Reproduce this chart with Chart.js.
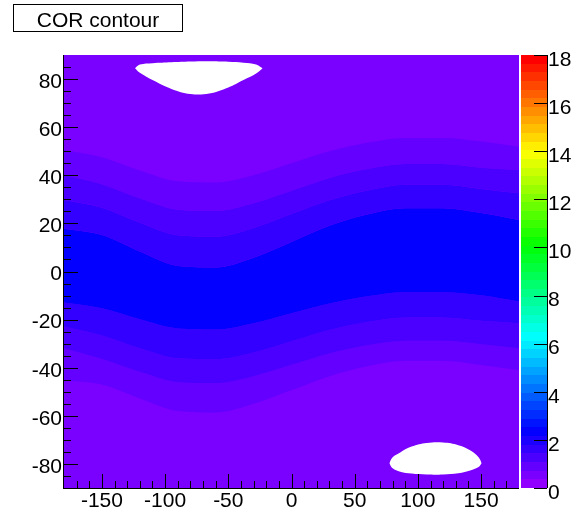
<!DOCTYPE html>
<html>
<head>
<meta charset="utf-8">
<script src="https://cdn.jsdelivr.net/npm/chart.js@4.4.0/dist/chart.umd.min.js"></script>
<style>
html, body { margin: 0; padding: 0; background: #fff; }
#wrap { position: relative; width: 580px; height: 517px; }
#title { position: absolute; left: 13px; top: 4px; width: 168px; height: 26px; border: 1px solid #000;
  font: 21px "Liberation Sans", Arial, sans-serif; line-height: 30px; text-align: center; color: #000; }
</style>
</head>
<body>
<div id="wrap">
  <canvas id="myChart" width="580" height="517"></canvas>
  <div id="title">COR contour</div>
</div>
<script>
// contour edges at these x positions
const xGrid = [-180, -150, -120, -90, -60, -30, 0, 30, 60, 90, 120, 150, 180];
const edge1Top = [50.5, 47.5, 42.0, 37.5, 37.0, 40.0, 45.0, 50.0, 53.5, 55.5, 55.5, 54.0, 51.9];
const edge2Top = [40.1, 36.3, 30.4, 25.7, 25.2, 28.4, 33.6, 38.9, 42.6, 44.7, 44.7, 43.1, 42.2];
const edge3Top = [29.7, 26.5, 20.3, 15.1, 14.5, 18.1, 23.9, 29.6, 33.7, 36.1, 36.1, 34.3, 32.5];
const edge4Top = [17.8, 15.2, 8.3, 2.3, 1.7, 5.7, 12.3, 19.0, 23.7, 26.3, 26.3, 24.3, 21.4];
const edge4Bot = [-12.9, -15.3, -19.9, -23.7, -24.1, -21.5, -17.4, -13.3, -10.3, -8.6, -8.6, -9.9, -12.5];
const edge3Bot = [-22.9, -26.6, -31.9, -36.1, -36.5, -33.7, -29.0, -24.3, -21.0, -19.1, -19.1, -20.5, -21.5];
const edge2Bot = [-31.9, -36.4, -41.7, -46.0, -46.4, -43.5, -38.8, -34.1, -30.7, -28.8, -28.8, -30.2, -31.9];
const edge1Bot = [-45.1, -47.0, -52.8, -58.0, -58.6, -55.0, -49.3, -43.5, -39.4, -37.1, -37.1, -38.9, -40.9];

// palette slot of each band (outer one first, then between consecutive edges)
const outerLevel = 1;
const bandLevel = [2, 3, 4, 6, 4, 3, 2];

// empty (white) cells
const holeTopX = [-123.8, -120, -110, -95, -80, -65, -50, -38, -28, -22.8];
const holeTopUpper = [84.5, 86.0, 86.6, 87.0, 87.3, 87.4, 87.2, 86.8, 86.1, 84.5];
const holeTopLower = [84.5, 82.6, 79.6, 75.9, 73.8, 74.0, 76.5, 79.6, 82.3, 84.5];
const holeBotX = [77.4, 80, 86, 95, 107, 120, 132, 142, 148, 150.5];
const holeBotUpper = [-79.7, -77.2, -75.2, -72.8, -71.3, -71.1, -72.2, -74.5, -77.2, -79.7];
const holeBotLower = [-79.7, -81.8, -83.2, -84.0, -84.4, -84.4, -83.9, -82.6, -81.3, -79.7];

const xTicks = [-150, -100, -50, 0, 50, 100, 150];
const yTicks = [-80, -60, -40, -20, 0, 20, 40, 60, 80];
const zTicks = [0, 2, 4, 6, 8, 10, 12, 14, 16, 18];
const zMin = 0, zMax = 18, nColors = 50;

function rootColor(i) {
  var hue = 280 - (i + 1) * 280 / nColors;
  return 'hsl(' + hue + ',100%,50%)';
}

function pts(xs, ys) {
  return xs.map(function (x, j) { return {x: x, y: ys[j]}; });
}

var edges = [edge1Top, edge2Top, edge3Top, edge4Top, edge4Bot, edge3Bot, edge2Bot, edge1Bot];
var datasets = edges.map(function (e, i) {
  var last = i === edges.length - 1;
  return {
    data: pts(xGrid, e),
    fill: last ? false : '+1',
    backgroundColor: last ? 'rgba(0,0,0,0)' : rootColor(bandLevel[i]),
    borderColor: 'rgba(0,0,0,0)',
    borderWidth: 0,
    pointRadius: 0,
    cubicInterpolationMode: 'monotone',
    order: 1
  };
});
[[holeTopX, holeTopUpper, holeTopLower], [holeBotX, holeBotUpper, holeBotLower]].forEach(function (h) {
  datasets.push({data: pts(h[0], h[1]), fill: '+1', backgroundColor: '#fff', borderColor: 'rgba(0,0,0,0)',
    borderWidth: 0, pointRadius: 0, tension: 0.4, order: 0});
  datasets.push({data: pts(h[0], h[2]), fill: false, borderColor: 'rgba(0,0,0,0)',
    borderWidth: 0, pointRadius: 0, tension: 0.4, order: 0});
});

var font = {family: '"Liberation Sans", Arial, sans-serif', size: 21};

function noPad(s) { s.paddingTop = 0; s.paddingBottom = 0; }

var rootFrame = {
  id: 'rootFrame',
  beforeDraw: function (chart) {
    var ctx = chart.ctx, a = chart.chartArea;
    ctx.save();
    ctx.fillStyle = rootColor(outerLevel);
    ctx.fillRect(a.left, a.top, a.right - a.left, a.bottom - a.top);
    ctx.restore();
  },
  afterDraw: function (chart) {
    var ctx = chart.ctx, a = chart.chartArea;
    var xs = chart.scales.x, ys = chart.scales.y, zs = chart.scales.z;
    ctx.save();
    // colour bar
    var bx0 = a.right + 2, bx1 = a.right + 28;
    for (var i = 0; i < nColors; i++) {
      var lo = Math.round(zs.getPixelForValue(zMin + i * (zMax - zMin) / nColors));
      var hi = Math.round(zs.getPixelForValue(zMin + (i + 1) * (zMax - zMin) / nColors));
      ctx.fillStyle = rootColor(i);
      ctx.fillRect(bx0, hi, bx1 - bx0, lo - hi);
    }
    ctx.strokeStyle = '#000';
    ctx.lineWidth = 1;
    ctx.beginPath();
    ctx.moveTo(bx1 + 0.5, a.top); ctx.lineTo(bx1 + 0.5, a.bottom);
    zTicks.forEach(function (v) {
      var p = Math.round(zs.getPixelForValue(v)) + 0.5;
      ctx.moveTo(bx1 - 13, p); ctx.lineTo(bx1, p);
    });
    // axes
    ctx.moveTo(a.left - 0.5, a.top); ctx.lineTo(a.left - 0.5, a.bottom + 1);
    ctx.moveTo(a.left - 1, a.bottom + 0.5); ctx.lineTo(a.right, a.bottom + 0.5);
    for (var x = -170; x <= 170; x += 10) {
      var px = Math.round(xs.getPixelForValue(x)) + 0.5;
      ctx.moveTo(px, a.bottom); ctx.lineTo(px, a.bottom - (x % 50 === 0 ? 14 : 7));
    }
    for (var y = -85; y <= 85; y += 5) {
      var py = Math.round(ys.getPixelForValue(y)) + 0.5;
      ctx.moveTo(a.left, py); ctx.lineTo(a.left + (y % 20 === 0 ? 14 : 7), py);
    }
    ctx.stroke();
    ctx.restore();
  }
};

var ctx = document.getElementById('myChart').getContext('2d');
var myChart = new Chart(ctx, {
  type: 'line',
  data: {datasets: datasets},
  plugins: [rootFrame],
  options: {
    responsive: false,
    animation: false,
    layout: {padding: {top: 55, left: 0, right: 0, bottom: 0}},
    plugins: {legend: {display: false}, tooltip: {enabled: false}},
    scales: {
      x: {
        type: 'linear', min: -180, max: 180,
        afterBuildTicks: function (s) { s.ticks = xTicks.map(function (v) { return {value: v}; }); },
        afterFit: function (s) { s.height = 29; s.paddingLeft = 0; s.paddingRight = 0; },
        grid: {display: false, drawTicks: false}, border: {display: false},
        ticks: {font: font, color: '#000', padding: 1, maxRotation: 0, autoSkip: false}
      },
      y: {
        type: 'linear', min: -90, max: 90,
        afterBuildTicks: function (s) { s.ticks = yTicks.map(function (v) { return {value: v}; }); },
        afterFit: function (s) { s.width = 64; noPad(s); },
        grid: {display: false, drawTicks: false}, border: {display: false},
        ticks: {font: font, color: '#000', padding: 2, labelOffset: 3, autoSkip: false}
      },
      z: {
        type: 'linear', position: 'right', min: zMin, max: zMax,
        afterBuildTicks: function (s) { s.ticks = zTicks.map(function (v) { return {value: v}; }); },
        afterFit: function (s) { s.width = 61; noPad(s); },
        grid: {display: false, drawTicks: false}, border: {display: false},
        ticks: {font: font, color: '#000', padding: 29, labelOffset: 5, autoSkip: false}
      }
    }
  }
});
</script>
</body>
</html>
